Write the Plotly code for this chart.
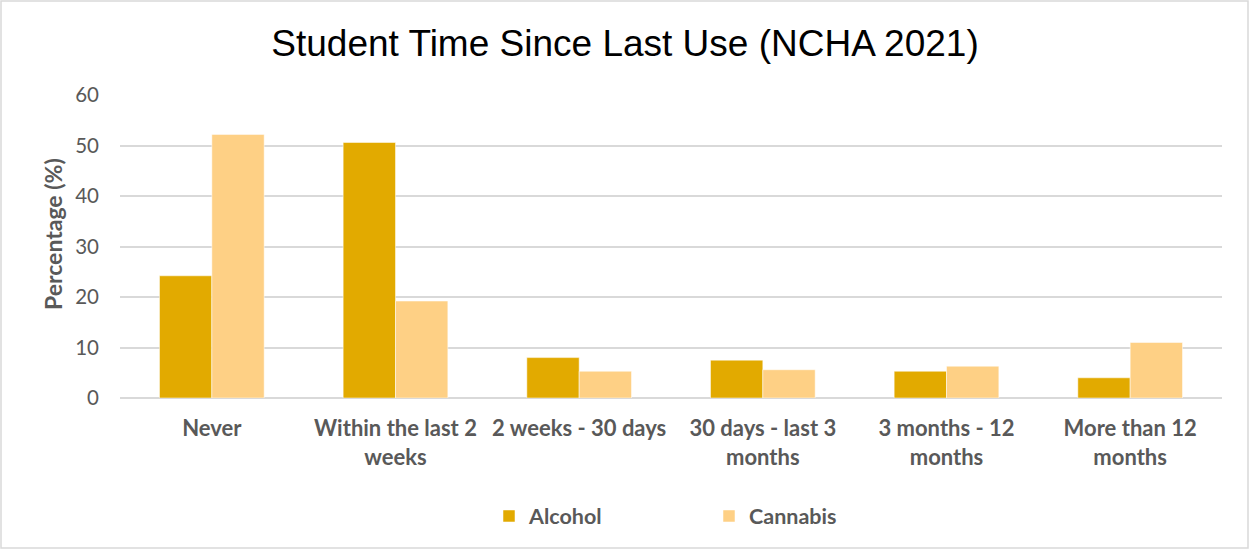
import plotly.graph_objects as go

categories = [
    "Never",
    "Within the last 2<br>weeks",
    "2 weeks - 30 days",
    "30 days - last 3<br>months",
    "3 months - 12<br>months",
    "More than 12<br>months",
]
alcohol = [24.2, 50.6, 8.0, 7.5, 5.3, 4.0]
cannabis = [52.2, 19.2, 5.3, 5.6, 6.3, 11.0]
y_ticks = [0, 10, 20, 30, 40, 50, 60]

ALCOHOL_COLOR = "#E2AA00"
CANNABIS_COLOR = "#FED085"
TEXT_GRAY = "#595959"
GRID_GRAY = "#D9D9D9"
BODY_FONT = "Lato, Calibri, Carlito, sans-serif"

fig = go.Figure()
fig.add_trace(go.Bar(name="Alcohol", x=categories, y=alcohol, marker_color=ALCOHOL_COLOR,
                     marker_line=dict(color="rgba(255,255,255,0.5)", width=1)))
fig.add_trace(go.Bar(name="Cannabis", x=categories, y=cannabis, marker_color=CANNABIS_COLOR,
                     marker_line=dict(color="rgba(255,255,255,0.5)", width=1)))

# plot area spans pixels x 120..1222, y 95..398
L, R, T, B = 120, 28, 95, 152
W, H = 1250 - L - R, 550 - T - B

def px_x(p):
    return (p - L) / W

def px_y(p):
    return (550 - B - p) / H

fig.update_layout(
    width=1250,
    height=550,
    margin=dict(l=L, r=R, t=T, b=B),
    paper_bgcolor="white",
    plot_bgcolor="white",
    barmode="group",
    bargap=0.43,
    bargroupgap=0,
    title=dict(
        text="Student Time Since Last Use (NCHA 2021)",
        x=0.5,
        xanchor="center",
        y=1 - 43 / 550,
        yanchor="middle",
        font=dict(family="Liberation Sans, Arial, sans-serif", size=37, color="black"),
    ),
    font=dict(family=BODY_FONT, color=TEXT_GRAY),
    legend=dict(
        orientation="h",
        x=px_x(489),
        xanchor="left",
        y=px_y(516),
        yanchor="middle",
        font=dict(family=BODY_FONT, size=21.5, color=TEXT_GRAY, weight="bold"),
        entrywidth=175,
        entrywidthmode="pixels",
        itemwidth=30,
    ),
    showlegend=True,
    shapes=[
        dict(
            type="rect",
            xref="paper",
            yref="paper",
            x0=px_x(1),
            x1=px_x(1248),
            y0=px_y(548),
            y1=px_y(1),
            line=dict(color="#D9D9D9", width=1.5),
            fillcolor="rgba(0,0,0,0)",
            layer="below",
        )
    ],
    annotations=[
        dict(
            text="Percentage (%)",
            textangle=-90,
            xref="paper",
            yref="paper",
            x=px_x(53),
            y=px_y(234),
            xanchor="center",
            yanchor="middle",
            showarrow=False,
            font=dict(family=BODY_FONT, size=23, color=TEXT_GRAY, weight="bold"),
        )
    ],
)

fig.update_xaxes(
    showgrid=False,
    showline=False,
    ticks="",
    tickfont=dict(family=BODY_FONT, size=22, color=TEXT_GRAY, weight="bold"),
    ticklabelstandoff=15,
)
fig.update_yaxes(
    range=[0, 60],
    tickvals=y_ticks,
    showgrid=True,
    gridcolor=GRID_GRAY,
    gridwidth=1.5,
    zeroline=True,
    zerolinecolor=GRID_GRAY,
    zerolinewidth=1.5,
    showline=False,
    ticks="",
    tickfont=dict(family=BODY_FONT, size=20.5, color=TEXT_GRAY),
    ticklabelstandoff=20,
)

fig.write_html("out.html")
